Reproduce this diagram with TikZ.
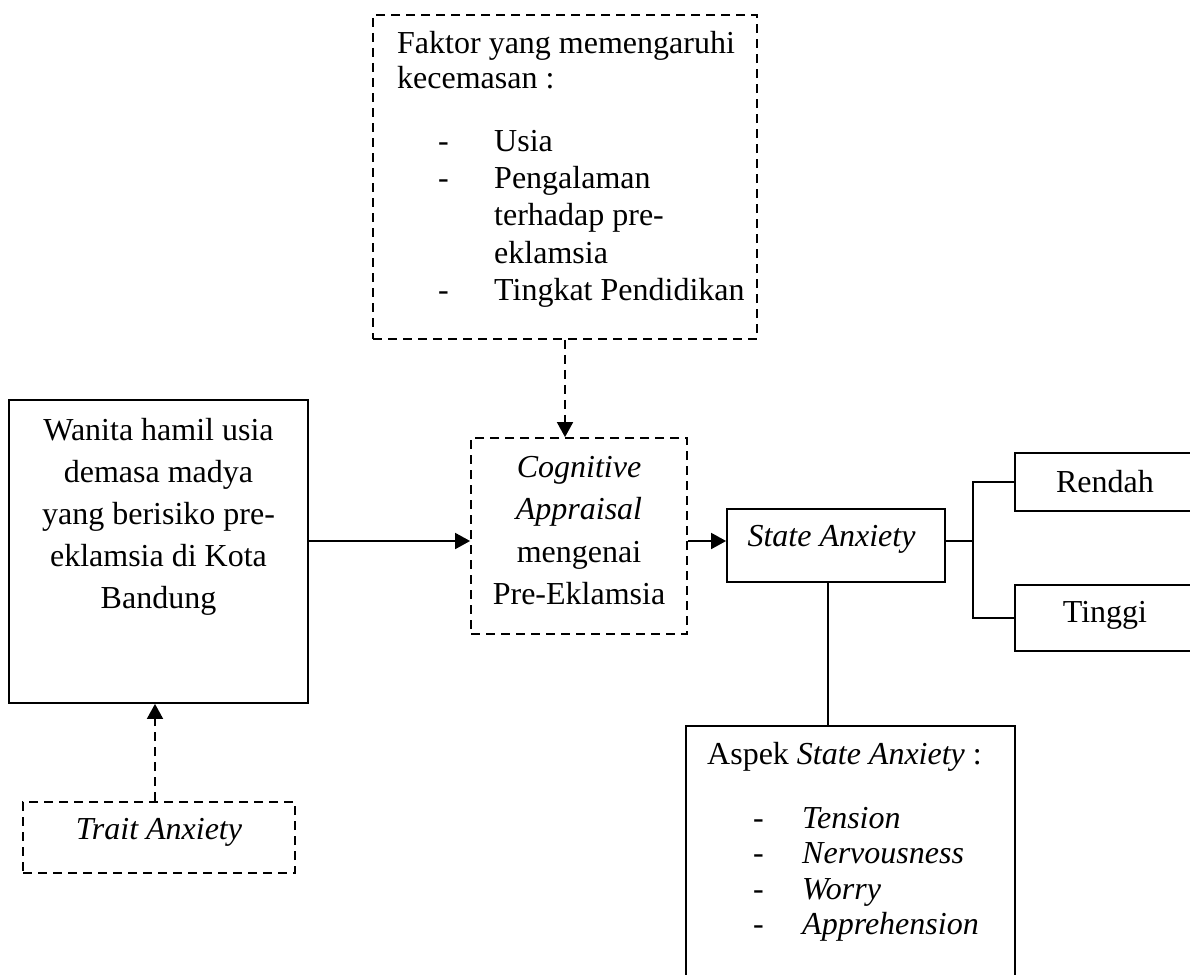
\documentclass[tikz,border=0pt]{standalone}
\usepackage{fontspec}
\setmainfont{Liberation Serif}
\usetikzlibrary{arrows.meta}
\begin{document}
\begin{tikzpicture}[x=1pt,y=-1pt,
  box/.style={draw=black,line width=1.8pt,rectangle,inner sep=0pt},
  dbox/.style={box,dash pattern=on 9pt off 6pt},
  txt/.style={inner sep=0pt,font=\fontsize{32}{36}\selectfont},
  conn/.style={line width=1.8pt},
  arr/.style={conn,-{Triangle[length=15pt,width=16pt]}},
  darr/.style={arr,dash pattern=on 9pt off 6pt}]
\useasboundingbox (0,0) rectangle (1190,974);
% boxes
\node[dbox,minimum width=384pt,minimum height=324pt] (fac) at (565,177) {};
\node[dbox,minimum width=216pt,minimum height=196pt] (cog) at (579,536) {};
\node[box,minimum width=299pt,minimum height=303pt] (wan) at (158.5,551.5) {};
\node[box,minimum width=218pt,minimum height=73pt] (sta) at (836,545.5) {};
\node[box,minimum width=180pt,minimum height=58pt] (ren) at (1105,482) {};
\node[box,minimum width=180pt,minimum height=66pt] (tin) at (1105,618) {};
\node[box,minimum width=329pt,minimum height=280pt] (asp) at (850.5,866) {};
\node[dbox,minimum width=272pt,minimum height=71pt] (tra) at (159,837.5) {};
% helper coordinates
\coordinate (mid) at (0,541);
\coordinate (br) at (973,541);
\coordinate (vx) at (828,0);
\coordinate (tx) at (155,0);
% connectors
\draw[darr] (fac.south) -- (fac.south |- cog.north);
\draw[arr] (wan.east |- mid) -- (cog.west |- mid);
\draw[arr] (cog.east |- mid) -- (sta.west |- mid);
\draw[conn] (sta.east |- br) -- (br);
\draw[conn] (ren.west) -| (br) |- (tin.west);
\draw[conn] (sta.south -| vx) -- (asp.north -| vx);
\draw[darr] (tra.north -| tx) -- (wan.south -| tx);
% text: factor box
\node[txt,anchor=base west] (f1) at (397,53) {Faktor yang memengaruhi};
\node[txt,anchor=base west] (f2) at (397,88) {kecemasan :};
\node[txt,anchor=base west] (fd1) at (438,151) {-};
\node[txt,anchor=base west] (f3) at (494,151) {Usia};
\node[txt,anchor=base west] (fd2) at (438,188) {-};
\node[txt,anchor=base west] (f4) at (494,188) {Pengalaman};
\node[txt,anchor=base west] (f5) at (494,225) {terhadap pre-};
\node[txt,anchor=base west] (f6) at (494,263) {eklamsia};
\node[txt,anchor=base west] (fd3) at (438,300) {-};
\node[txt,anchor=base west] (f7) at (494,300) {Tingkat Pendidikan};
% text: wanita box
\node[txt,anchor=base] (w1) at (158.5,440) {Wanita hamil usia};
\node[txt,anchor=base] (w2) at (158.5,482) {demasa madya};
\node[txt,anchor=base] (w3) at (158.5,524.5) {yang berisiko pre-};
\node[txt,anchor=base] (w4) at (158.5,566) {eklamsia di Kota};
\node[txt,anchor=base] (w5) at (158.5,608) {Bandung};
% text: cognitive box
\node[txt,anchor=base] (c1) at (579,477) {\textit{Cognitive}};
\node[txt,anchor=base] (c2) at (579,519.5) {\textit{Appraisal}};
\node[txt,anchor=base] (c3) at (579,562) {mengenai};
\node[txt,anchor=base] (c4) at (579,604.5) {Pre-Eklamsia};
% text: state anxiety and levels
\node[txt,anchor=base] (s1) at (831.5,546) {\textit{State Anxiety}};
\node[txt,anchor=base] (r1) at (1105,492) {Rendah};
\node[txt,anchor=base] (t1) at (1105,622) {Tinggi};
% text: aspek box
\node[txt,anchor=base west] (a0) at (707,764) {Aspek \textit{State Anxiety} :};
\node[txt,anchor=base west] (ad1) at (753,828) {-};
\node[txt,anchor=base west] (a1) at (802,828) {\textit{Tension}};
\node[txt,anchor=base west] (ad2) at (753,863) {-};
\node[txt,anchor=base west] (a2) at (802,863) {\textit{Nervousness}};
\node[txt,anchor=base west] (ad3) at (753,899) {-};
\node[txt,anchor=base west] (a3) at (802,899) {\textit{Worry}};
\node[txt,anchor=base west] (ad4) at (753,934) {-};
\node[txt,anchor=base west] (a4) at (802,934) {\textit{Apprehension}};
% text: trait box
\node[txt,anchor=base] (tr) at (159,839) {\textit{Trait Anxiety}};
\end{tikzpicture}
\end{document}
